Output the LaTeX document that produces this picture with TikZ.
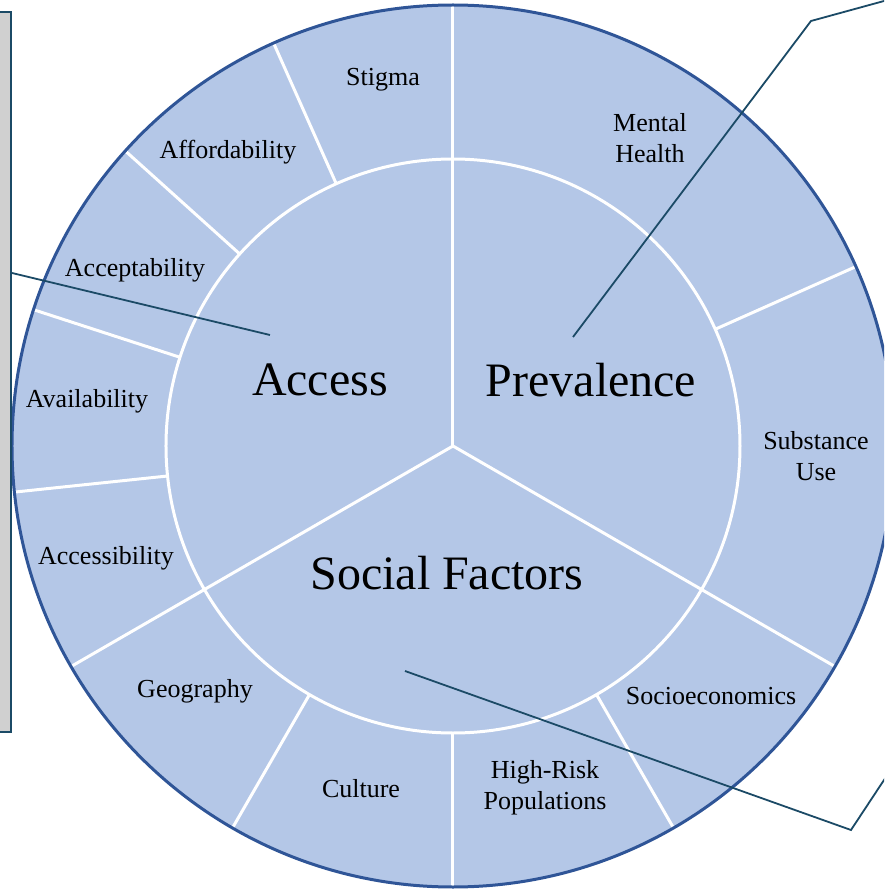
\documentclass[tikz,border=0pt]{standalone}
\usepackage{fontspec}
\setmainfont{Liberation Serif}
\definecolor{ringfill}{HTML}{B4C7E7}
\definecolor{ringedge}{HTML}{2F5597}
\definecolor{leader}{HTML}{1B4A66}
\definecolor{boxfill}{HTML}{D0D0D0}
\begin{document}
\begin{tikzpicture}[x=1pt,y=1pt,
  divider/.style={white,line width=3pt},
  small/.style={font=\fontsize{26}{31}\selectfont,align=center,inner sep=0pt},
  big/.style={font=\fontsize{48}{56}\selectfont,inner sep=0pt},
  leaderline/.style={leader,line width=1.8pt,line join=miter}]
\useasboundingbox (-453,-443) rectangle (431,446);
\clip (-453,-443) rectangle (431,446);

% wheel: filled disc, inner circle, sector and segment dividers
\fill[ringfill] (0,0) circle (441pt);
\draw[divider] (0,0) circle (287pt);
\foreach \a in {90,210,330} \draw[divider] (0,0) -- (\a:441);
\foreach \a in {24,114,138,162,186,240,270,300} \draw[divider] (\a:287) -- (\a:441);
\draw[ringedge,line width=3pt] (0,0) circle (441pt);

% centre categories
\node[big] (access) at (-133,66) {Access};
\node[big] (prev) at (138,66) {Prevalence};
\node[big] (social) at (-6,-127) {Social Factors};

% outer ring segments
\node[small] (stigma) at (-70,366) {Stigma};
\node[small] (afford) at (-225,294) {Affordability};
\node[small] (accept) at (-318,176) {Acceptability};
\node[small] (avail) at (-366,45) {Availability};
\node[small] (accessi) at (-347,-112) {Accessibility};
\node[small] (geo) at (-258,-245) {Geography};
\node[small] (culture) at (-92,-343) {Culture};
\node[small] (highrisk) at (92,-342) {High-Risk\\Populations};
\node[small] (socio) at (258,-250) {Socioeconomics};
\node[small] (subst) at (363,-10) {Substance\\Use};
\node[small] (mental) at (197,308) {Mental\\Health};

% callout box on the left
\node[draw=leader,fill=boxfill,line width=1.8pt,minimum width=60pt,
  minimum height=720pt,anchor=north east,inner sep=0pt] (callbox) at (-441,435) {};

% leader lines
\coordinate (accpt) at (-183,111);
\coordinate (prevpt) at (120,109);
\coordinate (bendA) at (358,425);
\coordinate (offA) at (504,465);
\coordinate (socpt) at (-48,-225);
\coordinate (bendB) at (398,-384);
\coordinate (offB) at (464,-284);
\draw[leaderline] (callbox.east |- 0,173) -- (accpt);
\draw[leaderline] (prevpt) -- (bendA) -- (offA);
\draw[leaderline] (socpt) -- (bendB) -- (offB);
\end{tikzpicture}
\end{document}
